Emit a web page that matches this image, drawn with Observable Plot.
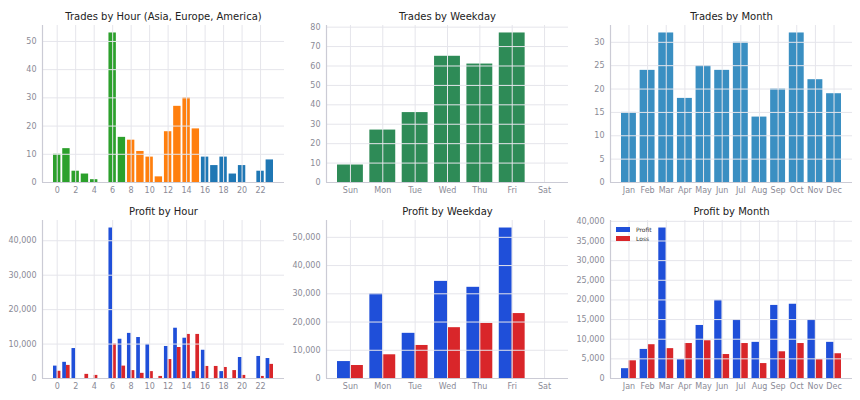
<!DOCTYPE html>
<html>
<head>
<meta charset="utf-8">
<script src="https://cdn.jsdelivr.net/npm/d3@7"></script>
<script src="https://cdn.jsdelivr.net/npm/@observablehq/plot@0.6"></script>
<style>
  html, body { margin: 0; padding: 0; background: #fff; }
  #board { position: relative; width: 860px; height: 400px; font-family: "DejaVu Sans", sans-serif; }
  .cell { position: absolute; }
  .legend { position: absolute; font-size: 6px; color: #333; line-height: 9px; }
  .legend .row { display: flex; align-items: center; height: 9px; }
  .legend .sw { width: 14px; height: 5px; margin-right: 6px; }
</style>
</head>
<body>
<div id="board"></div>
<script>
// ---- categories ----
const hours = [0,1,2,3,4,5,6,7,8,9,10,11,12,13,14,15,16,17,18,19,20,21,22,23];
const hourTickLabels = [0,2,4,6,8,10,12,14,16,18,20,22];
const weekdays = ["Sun","Mon","Tue","Wed","Thu","Fri","Sat"];
const months = ["Jan","Feb","Mar","Apr","May","Jun","Jul","Aug","Sep","Oct","Nov","Dec"];
const sessionNames = ["Asia","Europe","America"];
const hourSession = ["Asia","Asia","Asia","Asia","Asia","Asia","Asia","Asia",
  "Europe","Europe","Europe","Europe","Europe","Europe","Europe","Europe",
  "America","America","America","America","America","America","America","America"];

// ---- trade counts ----
const hourTrades = [10,12,4,3,1,0,53,16,15,11,9,2,18,27,30,19,9,6,9,3,6,0,4,8];
const weekdayTrades = [9,27,36,65,61,77,0];
const monthTrades = [15,24,32,18,25,24,30,14,20,32,22,19];

// ---- profit / loss totals ----
const hourProfit = [3600,4700,8700,0,0,0,43700,11400,13100,11900,9900,0,9300,14600,11700,2000,8200,0,2000,0,6100,0,6400,5800];
const hourLoss = [2100,3800,0,1200,900,0,10000,3600,2300,1500,2000,600,5500,9000,12800,12800,3500,3500,3200,2300,900,0,600,4100];
const weekdayProfit = [6000,30000,16000,34400,32300,53300,0];
const weekdayLoss = [4600,8400,11700,18000,19500,23000,0];
const monthProfit = [2500,7400,38300,4800,13500,19900,15000,9200,18600,18900,15000,9200];
const monthLoss = [4500,8600,7600,8900,9600,6100,8900,3800,6800,8900,4800,6300];

// ---- styling ----
const sessionColors = ["#2ca02c", "#ff7f0e", "#1f77b4"];
const weekdayColor = "#2e8b57";
const monthColor = "#3a8fc2";
const profitColor = "#1f4fd9";
const lossColor = "#d9262a";
const gridColor = "#e5e5eb";
const axisColor = "#cbcbd5";
const tickColor = "#8a8a96";
const titleColor = "#222";

const board = document.getElementById("board");
const comma = d3.format(",");

function panel({title, xDomain, xTicks, xFormat, yTop, yTicks, yFormat, marks, height, marginBottom, colorScale}) {
  return Plot.plot({
    width: 284,
    height,
    marginLeft: 42,
    marginRight: 0,
    marginTop: 25,
    marginBottom,
    style: {fontFamily: "DejaVu Sans, sans-serif", background: "transparent", overflow: "visible"},
    x: {domain: xDomain, axis: null},
    y: {domain: [0, yTop], axis: null},
    color: colorScale,
    marks: [
      ...marks,
      Plot.gridY({ticks: yTicks, stroke: gridColor, strokeOpacity: 1, strokeWidth: 1}),
      Plot.gridX({ticks: xTicks, stroke: gridColor, strokeOpacity: 1, strokeWidth: 1}),
      Plot.ruleY([0], {stroke: axisColor, strokeWidth: 1.2}),
      Plot.ruleX([xDomain[0]], {stroke: axisColor, strokeWidth: 1.2}),
      Plot.axisY({ticks: yTicks, tickSize: 0, tickPadding: 6, fontSize: 8, color: tickColor, tickFormat: yFormat, label: null}),
      Plot.axisX({ticks: xTicks, tickSize: 0, tickPadding: 4.5, fontSize: 8, color: tickColor, tickFormat: xFormat, label: null}),
      Plot.text([title], {frameAnchor: "top", dy: -12.5, fontSize: 10, fill: titleColor})
    ]
  });
}

function place(node, left, top) {
  const d = document.createElement("div");
  d.className = "cell";
  d.style.left = left + "px";
  d.style.top = top + "px";
  d.appendChild(node);
  board.appendChild(d);
  return d;
}

const hourRows = hours.map((h, i) => ({i: h, trades: hourTrades[i], session: hourSession[i], profit: hourProfit[i], loss: hourLoss[i]}));
const dayRows = weekdays.map((d, i) => ({i, trades: weekdayTrades[i], profit: weekdayProfit[i], loss: weekdayLoss[i]}));
const monthRows = months.map((m, i) => ({i, trades: monthTrades[i], profit: monthProfit[i], loss: monthLoss[i]}));

const hourDomain = [-1.59, 24.59];
const dayDomain = [-0.74, 6.74];
const monthDomain = [-0.99, 11.99];
const pad = 1.05;

function singleBars(rows, key, fill) {
  return Plot.rect(rows, {x1: d => d.i - 0.4, x2: d => d.i + 0.4, y1: () => 0, y2: d => d[key], fill});
}
function pairedBars(rows) {
  return [
    Plot.rect(rows, {x1: d => d.i - 0.4, x2: d => d.i, y1: () => 0, y2: d => d.profit, fill: profitColor}),
    Plot.rect(rows, {x1: d => d.i, x2: d => d.i + 0.4, y1: () => 0, y2: d => d.loss, fill: lossColor})
  ];
}

// top row: trade counts
place(panel({
  title: "Trades by Hour (Asia, Europe, America)",
  xDomain: hourDomain, xTicks: hourTickLabels, xFormat: d => String(d),
  yTop: d3.max(hourTrades) * pad, yTicks: d3.range(0, 51, 10), yFormat: d => String(d),
  marks: [singleBars(hourRows, "trades", "session")],
  colorScale: {domain: sessionNames, range: sessionColors},
  height: 200, marginBottom: 18
}), 0, 0);

place(panel({
  title: "Trades by Weekday",
  xDomain: dayDomain, xTicks: d3.range(weekdays.length), xFormat: i => weekdays[i],
  yTop: d3.max(weekdayTrades) * pad, yTicks: d3.range(0, 81, 10), yFormat: d => String(d),
  marks: [singleBars(dayRows, "trades", weekdayColor)],
  height: 200, marginBottom: 18
}), 284, 0);

place(panel({
  title: "Trades by Month",
  xDomain: monthDomain, xTicks: d3.range(months.length), xFormat: i => months[i],
  yTop: d3.max(monthTrades) * pad, yTicks: d3.range(0, 31, 5), yFormat: d => String(d),
  marks: [singleBars(monthRows, "trades", monthColor)],
  height: 200, marginBottom: 18
}), 568, 0);

// bottom row: profit vs loss
place(panel({
  title: "Profit by Hour",
  xDomain: hourDomain, xTicks: hourTickLabels, xFormat: d => String(d),
  yTop: d3.max([...hourProfit, ...hourLoss]) * pad, yTicks: d3.range(0, 40001, 10000), yFormat: comma,
  marks: pairedBars(hourRows),
  height: 205, marginBottom: 22
}), 0, 195);

place(panel({
  title: "Profit by Weekday",
  xDomain: dayDomain, xTicks: d3.range(weekdays.length), xFormat: i => weekdays[i],
  yTop: d3.max([...weekdayProfit, ...weekdayLoss]) * pad, yTicks: d3.range(0, 50001, 10000), yFormat: comma,
  marks: pairedBars(dayRows),
  height: 205, marginBottom: 22
}), 284, 195);

const monthCell = place(panel({
  title: "Profit by Month",
  xDomain: monthDomain, xTicks: d3.range(months.length), xFormat: i => months[i],
  yTop: d3.max([...monthProfit, ...monthLoss]) * pad, yTicks: d3.range(0, 40001, 5000), yFormat: comma,
  marks: pairedBars(monthRows),
  height: 205, marginBottom: 22
}), 568, 195);

// legend for the profit / loss series
const legend = document.createElement("div");
legend.className = "legend";
legend.style.left = "48px";
legend.style.top = "30px";
[["Profit", profitColor], ["Loss", lossColor]].forEach(([name, color]) => {
  const row = document.createElement("div");
  row.className = "row";
  const sw = document.createElement("span");
  sw.className = "sw";
  sw.style.background = color;
  const label = document.createElement("span");
  label.textContent = name;
  row.appendChild(sw);
  row.appendChild(label);
  legend.appendChild(row);
});
monthCell.appendChild(legend);
</script>
</body>
</html>
